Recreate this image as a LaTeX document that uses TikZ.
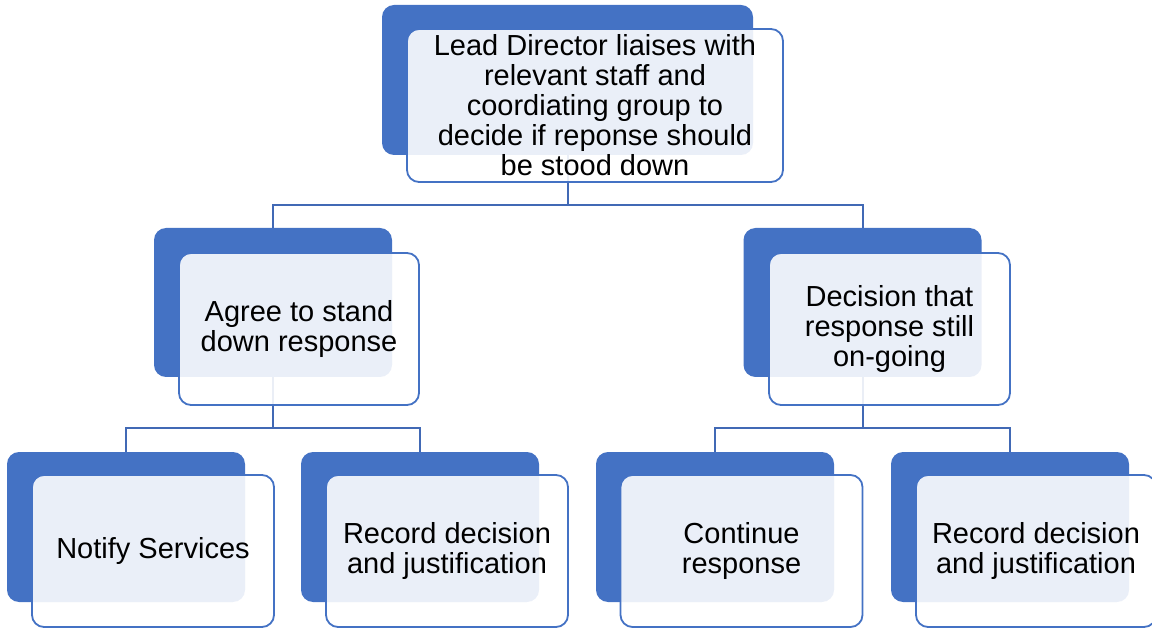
\documentclass[tikz,border=0pt]{standalone}
\usepackage{fontspec}
\setmainfont{Liberation Sans}
\pgfdeclarelayer{background}
\pgfsetlayers{background,main}
\begin{document}
\begin{tikzpicture}[x=1pt,y=-1pt,
  backbox/.style={draw=none, fill=accent, rounded corners=12pt, inner sep=0pt},
  frontbox/.style={draw=accent, line width=1.8pt, fill=white, fill opacity=0.89,
    text opacity=1, rounded corners=12pt, inner sep=0pt, align=center,
    font=\fontsize{29}{30}\selectfont},
  conn/.style={draw=linecol, line width=2pt}]
\definecolor{accent}{HTML}{4472C4}
\definecolor{linecol}{HTML}{4169B5}
\useasboundingbox (0,0) rectangle (1152,628);

% back boxes (solid)
\node[backbox, minimum width=371pt, minimum height=150pt] (b0) at (567.5,80) {};
\node[backbox, minimum width=238pt, minimum height=149pt] (b1) at (273,302.5) {};
\node[backbox, minimum width=238pt, minimum height=149pt] (b2) at (862.5,302.5) {};
\node[backbox, minimum width=238pt, minimum height=150pt] (b3) at (126,527) {};
\node[backbox, minimum width=238pt, minimum height=150pt] (b4) at (420,527) {};
\node[backbox, minimum width=238pt, minimum height=150pt] (b5) at (715,527) {};
\node[backbox, minimum width=238pt, minimum height=150pt] (b6) at (1010,527) {};

% junction points of the elbow connectors
\coordinate (j0) at (567.5,205);
\coordinate (j1) at (273,428);
\coordinate (j2) at (862.5,428);

% connectors run behind all boxes
\begin{pgfonlayer}{background}
  \draw[conn] (b0.center) -- (j0) -| (b1.center);
  \draw[conn] (j0) -| (b2.center);
  \draw[conn] (b1.center) -- (j1) -| (b3.center);
  \draw[conn] (j1) -| (b4.center);
  \draw[conn] (b2.center) -- (j2) -| (b5.center);
  \draw[conn] (j2) -| (b6.center);
\end{pgfonlayer}

% front boxes with text
\node[frontbox, minimum width=376pt, minimum height=153pt] (f0) at (595,105.5)
  {Lead Director liaises with\\relevant staff and\\coordiating group to\\decide if reponse should\\be stood down};
\node[frontbox, minimum width=240pt, minimum height=152pt] (f1) at (299,329)
  {Agree to stand\\down response};
\node[frontbox, minimum width=241pt, minimum height=152pt] (f2) at (889.5,329)
  {Decision that\\response still\\on-going};
\node[frontbox, minimum width=242pt, minimum height=152pt] (f3) at (153,551)
  {Notify Services};
\node[frontbox, minimum width=242pt, minimum height=152pt] (f4) at (447,551)
  {Record decision\\and justification};
\node[frontbox, minimum width=242pt, minimum height=152pt] (f5) at (741.5,551)
  {Continue\\response};
\node[frontbox, minimum width=240pt, minimum height=152pt] (f6) at (1036,551)
  {Record decision\\and justification};
\end{tikzpicture}
\end{document}
